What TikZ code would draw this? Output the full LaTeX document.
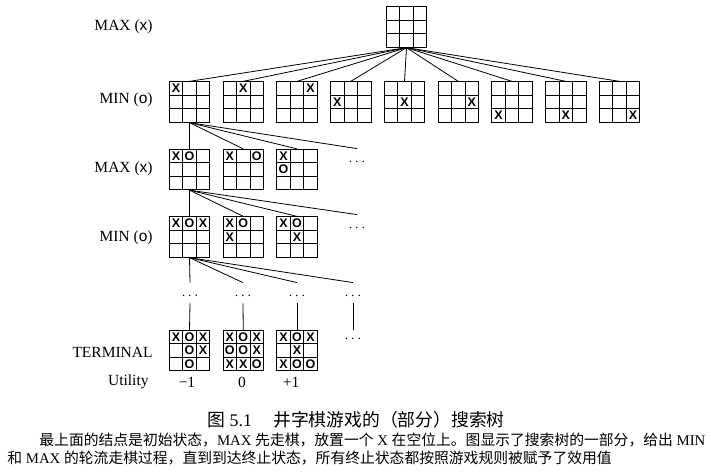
\documentclass[tikz,border=0pt]{standalone}
\usepackage{fontspec}
\setmainfont{Liberation Serif}
\setsansfont{Liberation Sans}
\newfontfamily\cjk{Noto Sans CJK SC}
\usetikzlibrary{calc}

\tikzset{
  board/.style={draw, minimum width=40.5pt, minimum height=40.5pt, inner sep=0pt,
    path picture={
      \foreach \k in {1,2}{
        \draw ($(path picture bounding box.north west)!\k/3!(path picture bounding box.north east)$)
          -- ($(path picture bounding box.south west)!\k/3!(path picture bounding box.south east)$);
        \draw ($(path picture bounding box.north west)!\k/3!(path picture bounding box.south west)$)
          -- ($(path picture bounding box.north east)!\k/3!(path picture bounding box.south east)$);
      }}},
  mk/.style={inner sep=0pt, font=\fontsize{12.5}{12.5}\selectfont\sffamily\bfseries},
  lab/.style={anchor=east, inner sep=0pt, font=\fontsize{15.5}{18}\selectfont},
  dts/.style={minimum height=26pt, inner sep=0pt, font=\fontsize{15.5}{18}\selectfont},
  body/.style={anchor=base west, inner sep=0pt, font=\fontsize{14.8}{18}\selectfont},
}
\newcommand{\putmk}[4]{\node[mk] (#1-#2#3) at ([shift={({(#2-2)*13.5},{(#3-2)*13.5})}]#1.center) {#4};}
\newcommand{\brd}[3]{\node[board] (#1) at (#2) {};
  \foreach \c/\r/\m in {#3} {\putmk{#1}{\c}{\r}{\m}}}

\begin{document}
\begin{tikzpicture}[x=1pt, y=-1pt, line width=.8pt]
  \useasboundingbox (0,0) rectangle (711,471);

  % levels
  \node[lab] (l1) at (153,27) {MAX ({\sffamily x})};
  \node[lab] (l2) at (153,100) {MIN ({\sffamily o})};
  \node[lab] (l3) at (153,169) {MAX ({\sffamily x})};
  \node[lab] (l4) at (153,238) {MIN ({\sffamily o})};
  \node[lab] (l5) at (153,352) {TERMINAL};
  \node[lab] (l6) at (149,382) {Utility};

  % root and first moves
  \node[board] (r0) at (406.5,27) {};
  \foreach \i/\c/\r in {1/1/1,2/2/1,3/3/1,4/1/2,5/2/2,6/3/2,7/1/3,8/2/3,9/3/3}{
    \node[board] (a\i) at ({189.5+53.75*(\i-1)},102) {};
    \putmk{a\i}{\c}{\r}{X}
    \draw (r0.south) -- (a\i.north);
  }

  % second level
  \brd{b1}{189.5,169.5}{1/1/X,2/1/O}
  \brd{b2}{243.25,169.5}{1/1/X,3/1/O}
  \brd{b3}{297,169.5}{1/1/X,1/2/O}
  \node[dts] (d3) at (357,162) {$\cdots$};
  \foreach \n in {b1,b2,b3,d3} \draw (a1.south) -- (\n.north);

  % third level
  \brd{c1}{189.5,237}{1/1/X,2/1/O,3/1/X}
  \brd{c2}{243.25,237}{1/1/X,2/1/O,1/2/X}
  \brd{c3}{297,237}{1/1/X,2/1/O,2/2/X}
  \node[dts] (d4) at (357,228) {$\cdots$};
  \foreach \n in {c1,c2,c3,d4} \draw (b1.south) -- (\n.north);

  % gap
  \node[dts] (e1) at (190,296) {$\cdots$};
  \node[dts] (e2) at (243,296) {$\cdots$};
  \node[dts] (e3) at (297,296) {$\cdots$};
  \node[dts] (e4) at (353,296) {$\cdots$};
  \foreach \n in {e1,e2,e3,e4} \draw (c1.south) -- (\n.north);

  % terminal states
  \brd{t1}{189.5,350.5}{1/1/X,2/1/O,3/1/X,2/2/O,3/2/X,2/3/O}
  \brd{t2}{243.25,350.5}{1/1/X,2/1/O,3/1/X,1/2/O,2/2/O,3/2/X,1/3/X,2/3/X,3/3/O}
  \brd{t3}{297,350.5}{1/1/X,2/1/O,3/1/X,2/2/X,1/3/X,2/3/O,3/3/O}
  \node[dts] (f4) at (353,339) {$\cdots$};
  \draw ([yshift=6pt]e1.south) -- (t1.north);
  \draw ([yshift=6pt]e2.south) -- (t2.north);
  \draw ([yshift=6pt]e3.south) -- (t3.north);
  \draw ([yshift=6pt]e4.south) -- ([yshift=-4pt]f4.north);

  \node[lab, anchor=center] (u1) at (187,382) {−1};
  \node[lab, anchor=center] (u2) at (242,382) {0};
  \node[lab, anchor=center] (u3) at (291,382) {+1};

  % caption
  \node[inner sep=0pt, anchor=west, font=\fontsize{17.8}{20}\selectfont] (cap) at (207,420)
    {{\cjk 图} 5.1\hspace{1.2em}{\cjk 井字棋游戏的（部分）搜索树}};
  \node[body] (cap1) at (39,445)
    {{\cjk 最上面的结点是初始状态，}MAX {\cjk 先走棋，放置一个} X {\cjk 在空位上。图显示了搜索树的一部分，给出} MIN};
  \node[body] (cap2) at (7,463)
    {{\cjk 和} MAX {\cjk 的轮流走棋过程，直到到达终止状态，所有终止状态都按照游戏规则被赋予了效用值}};
\end{tikzpicture}
\end{document}
